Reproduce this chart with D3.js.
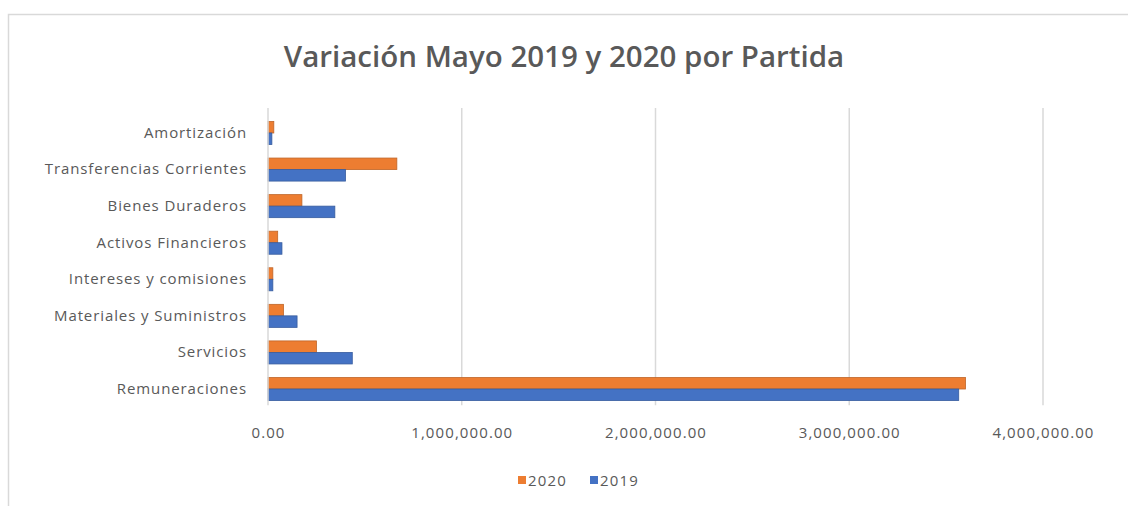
<!DOCTYPE html>
<html lang="es">
<head>
<meta charset="UTF-8">
<title>Variación Mayo 2019 y 2020 por Partida</title>
<script src="https://d3js.org/d3.v7.min.js"></script>
<style>
  body { margin: 0; background: #fff; }
  svg { display: block; font-family: "Open Sans", sans-serif; }
  .tick text { fill: #595959; }
</style>
</head>
<body>
<svg id="chart" width="1128" height="506"></svg>
<script>
// categories from top to bottom as drawn
const categories = ["Amortización", "Transferencias Corrientes", "Bienes Duraderos", "Activos Financieros",
  "Intereses y comisiones", "Materiales y Suministros", "Servicios", "Remuneraciones"];
const values2020 = [30000, 665000, 175000, 50000, 25000, 80000, 250000, 3600000];
const values2019 = [20000, 400000, 345000, 72000, 25000, 150000, 435000, 3565000];
const ticks = [0, 1000000, 2000000, 3000000, 4000000];
const series = [
  { name: "2020", values: values2020, color: "#ED7D31" },
  { name: "2019", values: values2019, color: "#4472C4" }
];

const svg = d3.select("#chart");

// chart frame
svg.append("rect")
  .attr("x", 8.5).attr("y", 14.5)
  .attr("width", 1128).attr("height", 506)
  .attr("fill", "#fff").attr("stroke", "#d9d9d9").attr("stroke-width", 1.5);

svg.append("text")
  .attr("x", 564).attr("y", 67)
  .attr("text-anchor", "middle")
  .attr("font-size", 29.5)
  .attr("font-weight", 600)
  .attr("fill", "#595959")
  .text("Variación Mayo 2019 y 2020 por Partida");

const plotLeft = 268, plotRight = 1043, plotTop = 114.7, plotBottom = 407.3;

const x = d3.scaleLinear().domain([0, 4000000]).range([plotLeft, plotRight]);
const y = d3.scaleBand().domain(categories).range([plotTop, plotBottom]).paddingInner(0.37).paddingOuter(0.185);
const inner = d3.scaleBand().domain(series.map(s => s.name)).range([0, y.bandwidth()]);

// gridlines
svg.append("g").selectAll("line")
  .data(ticks.slice(1))
  .join("line")
  .attr("x1", d => x(d)).attr("x2", d => x(d))
  .attr("y1", 108).attr("y2", plotBottom - 2)
  .attr("stroke", "#d9d9d9").attr("stroke-width", 1.5);

// bars
series.forEach(s => {
  svg.append("g").selectAll("rect")
    .data(categories)
    .join("rect")
    .attr("x", x(0))
    .attr("y", (c) => y(c) + inner(s.name))
    .attr("width", (c, i) => x(s.values[i]) - x(0))
    .attr("height", inner.bandwidth())
    .attr("fill", s.color)
    .attr("stroke", d3.color(s.color).darker(0.6))
    .attr("stroke-width", 0.8);
});

// vertical axis line at zero
svg.append("line")
  .attr("x1", x(0)).attr("x2", x(0))
  .attr("y1", 108).attr("y2", plotBottom - 2)
  .attr("stroke", "#d9d9d9").attr("stroke-width", 1.5);

// x axis labels
const xAxis = d3.axisBottom(x)
  .tickValues(ticks)
  .tickSize(0)
  .tickPadding(0)
  .tickFormat(d3.format(",.2f"));
const gx = svg.append("g")
  .attr("transform", `translate(0,${plotBottom + 20})`)
  .call(xAxis);
gx.select(".domain").remove();
gx.selectAll("text").attr("font-size", 15).attr("letter-spacing", 1.1)
  .attr("font-family", "Open Sans, sans-serif");

// category labels
const yAxis = d3.axisLeft(y).tickSize(0).tickPadding(0);
const gy = svg.append("g")
  .attr("transform", `translate(${plotLeft - 21},0)`)
  .call(yAxis);
gy.select(".domain").remove();
gy.selectAll("text").attr("font-size", 15).attr("letter-spacing", 0.9)
  .attr("font-family", "Open Sans, sans-serif");

// legend
const legend = svg.append("g").attr("transform", "translate(518,481)");
let lx = 0;
series.forEach(s => {
  const item = legend.append("g").attr("transform", `translate(${lx},0)`);
  item.append("rect").attr("x", 0).attr("y", -5).attr("width", 8).attr("height", 8).attr("fill", s.color);
  item.append("text").attr("x", 10).attr("y", 5)
    .attr("font-size", 15).attr("letter-spacing", 1.2).attr("fill", "#595959").text(s.name);
  lx += 72;
});
</script>
</body>
</html>
